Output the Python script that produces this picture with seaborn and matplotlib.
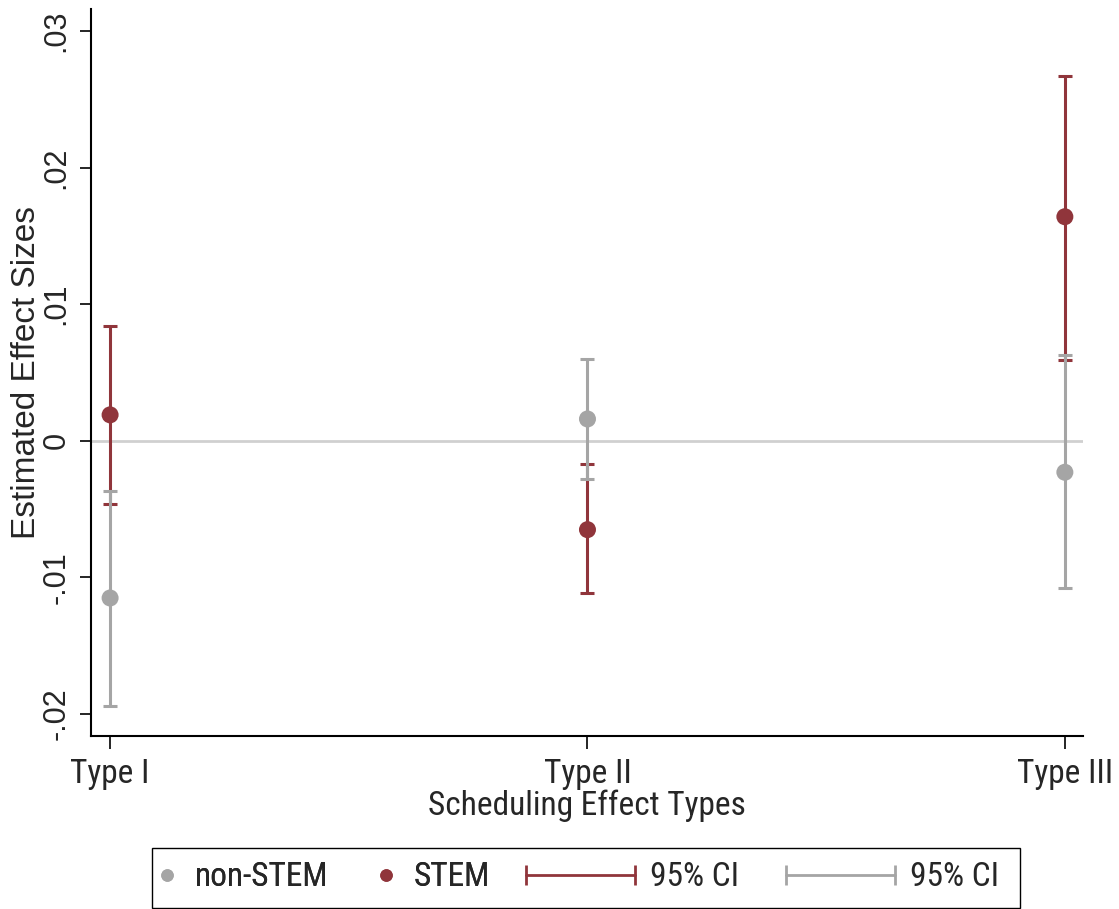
import matplotlib
matplotlib.use("Agg")
import matplotlib.pyplot as plt
from matplotlib.lines import Line2D
from matplotlib.legend_handler import HandlerLine2D
from matplotlib.patches import Rectangle
from matplotlib.font_manager import FontProperties
import pandas as pd
import seaborn as sns

# data
types = ["Type I", "Type II", "Type III"]
stem_est = [0.0019, -0.0065, 0.0164]
stem_lo = [-0.0046, -0.0111, 0.0059]
stem_hi = [0.0084, -0.0017, 0.0267]
nonstem_est = [-0.0115, 0.0016, -0.0023]
nonstem_lo = [-0.0194, -0.0028, -0.0108]
nonstem_hi = [-0.0037, 0.0060, 0.0063]

yticks = [-0.02, -0.01, 0, 0.01, 0.02, 0.03]
ytick_labels = ["-.02", "-.01", "0", ".01", ".02", ".03"]

maroon = "#90353b"
grey = "#a5a5a5"

df = pd.concat([
    pd.DataFrame({"type": types, "est": stem_est, "lo": stem_lo, "hi": stem_hi, "group": "STEM"}),
    pd.DataFrame({"type": types, "est": nonstem_est, "lo": nonstem_lo, "hi": nonstem_hi, "group": "non-STEM"}),
])

sns.set_style("white")
plt.rcParams["font.family"] = ["Liberation Sans", "DejaVu Sans"]
# horizontal text in the original is condensed
narrow = FontProperties(family=["Liberation Sans Narrow", "Arial Narrow", "Roboto Condensed",
                                "Archivo Narrow", "PT Sans Narrow", "Liberation Sans"], size=24)

fig = plt.figure(figsize=(11.19, 9.09), dpi=100)
ax = fig.add_axes([91 / 1119, 1 - 736 / 909, (1083 - 91) / 1119, (736 - 9) / 909])

ax.axhline(0, color="#d0d0d0", lw=2, zorder=0)

# CIs: STEM first, non-STEM on top of it
for grp, col in [("STEM", maroon), ("non-STEM", grey)]:
    d = df[df["group"] == grp]
    ax.errorbar(d["type"], d["est"], yerr=[d["est"] - d["lo"], d["hi"] - d["est"]],
                fmt="none", ecolor=col, elinewidth=2.2, capsize=5, capthick=2.2, zorder=2)

sns.scatterplot(data=df, x="type", y="est", hue="group",
                palette={"STEM": maroon, "non-STEM": grey},
                s=150, linewidth=0, legend=False, zorder=4, ax=ax)

ax.set_xlim(-0.04, 2.038)
ax.set_ylim(-0.0216, 0.0316)
ax.set_yticks(yticks)
ax.set_yticklabels(ytick_labels, rotation=90, va="center", fontsize=22)
ax.set_xticks(range(len(types)))
ax.set_xticklabels(types, fontproperties=narrow)
ax.tick_params(axis="y", length=8, width=1.2, pad=6, color="black", left=True)
ax.tick_params(axis="x", length=9, width=1.2, pad=6.5, color="black", bottom=True)
ax.set_xlabel("Scheduling Effect Types", fontproperties=narrow, labelpad=0)
ax.set_ylabel("Estimated Effect Sizes", fontsize=24, labelpad=0)
sns.despine(ax=ax)
for s in ["left", "bottom"]:
    ax.spines[s].set_color("black")
    ax.spines[s].set_linewidth(1.5)

# legend: dots and CI bars in two pieces inside one frame
ly = 1 - 877.5 / 909
dots = [Line2D([], [], ls="", marker="o", ms=8, color=grey, label="non-STEM"),
        Line2D([], [], ls="", marker="o", ms=8, color=maroon, label="STEM")]
cis = [Line2D([], [], color=maroon, lw=2, marker="|", ms=14, mew=2, label="95% CI"),
       Line2D([], [], color=grey, lw=2, marker="|", ms=14, mew=2, label="95% CI")]

leg1 = fig.legend(handles=dots, loc="center left", bbox_to_anchor=(152 / 1119, ly),
                  ncol=2, frameon=False, prop=narrow, handlelength=0.6,
                  handletextpad=0.55, columnspacing=1.4, borderpad=0.15, borderaxespad=0)
leg2 = fig.legend(handles=cis, loc="center left", bbox_to_anchor=(526 / 1119, ly),
                  ncol=2, frameon=False, prop=narrow, handlelength=3.27,
                  handletextpad=0.45, columnspacing=1.4, borderpad=0, borderaxespad=0,
                  handler_map={h: HandlerLine2D(numpoints=2, marker_pad=0) for h in cis})
fig.add_artist(leg1)
fig.patches.append(Rectangle((152 / 1119, 1 - 908 / 909), 868 / 1119, 60 / 909,
                             transform=fig.transFigure, fill=False, ec="black", lw=1))

fig.savefig("out.png", dpi=100)
